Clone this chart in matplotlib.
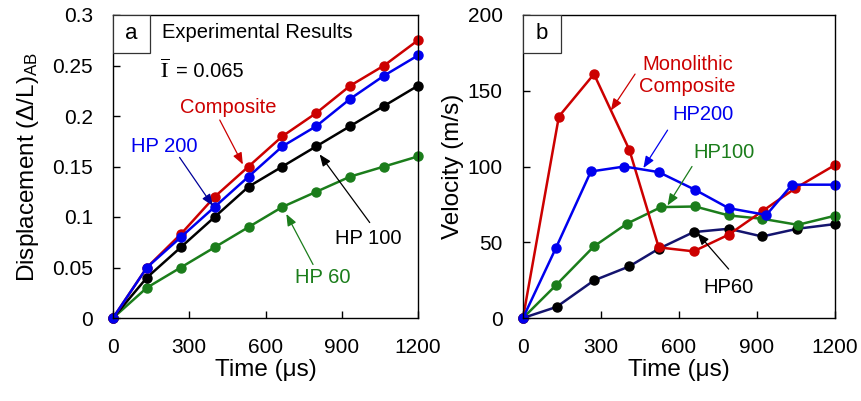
import matplotlib
matplotlib.use('Agg')
import matplotlib.pyplot as plt
from matplotlib.patches import Rectangle

plt.rcParams['font.family'] = ['Liberation Sans', 'DejaVu Sans']
plt.rcParams['mathtext.fontset'] = 'custom'
plt.rcParams['mathtext.rm'] = 'Liberation Sans'
plt.rcParams['mathtext.it'] = 'Liberation Sans:italic'

# panel a: displacement
t_disp = [0, 133.3, 266.7, 400, 533.3, 666.7, 800, 933.3, 1066.7, 1200]
disp_composite = [0, 0.05, 0.083, 0.12, 0.15, 0.18, 0.203, 0.23, 0.25, 0.275]
disp_hp200 = [0, 0.05, 0.08, 0.11, 0.14, 0.17, 0.19, 0.217, 0.24, 0.26]
disp_hp100 = [0, 0.04, 0.07, 0.10, 0.13, 0.15, 0.17, 0.19, 0.21, 0.23]
disp_hp60 = [0, 0.03, 0.05, 0.07, 0.09, 0.11, 0.125, 0.14, 0.15, 0.16]

# panel b: velocity
t_mono = [0, 138, 273, 409, 522, 656, 791, 923, 1048, 1200]
v_mono = [0, 133, 161, 111, 46.6, 44, 55, 70.8, 85.7, 101]
t_v200 = [0, 126, 261, 390, 522, 662, 791, 936, 1035, 1200]
v_hp200 = [0, 46, 96.7, 100, 96.3, 84.6, 72.5, 68, 88, 88]
t_v100 = [0, 126, 273, 399, 531, 662, 791, 920, 1057, 1200]
v_hp100 = [0, 21.5, 47.3, 62.2, 73.2, 73.6, 67.7, 65.5, 61.5, 67.5]
t_v60 = [0, 129, 273, 408, 522, 656, 791, 920, 1055, 1200]
v_hp60 = [0, 7.3, 24.8, 34, 45.7, 56.7, 58.9, 53.8, 58.9, 62]

RED = '#cc0000'
BLUE = '#0000ee'
GREEN = '#1b7d1b'
NAVY = '#14146e'

fig = plt.figure(figsize=(8.61, 4.01), dpi=100)
ax1 = fig.add_axes([113/861, 1-318/401, 305/861, 303/401])
ax2 = fig.add_axes([523/861, 1-318/401, 312/861, 303/401])

def style(ax):
    ax.set_xlim(0, 1200)
    ax.set_xticks([0, 300, 600, 900, 1200])
    ax.tick_params(direction='in', length=5, width=1, pad=14.5, labelsize=15)
    for s in ax.spines.values():
        s.set_linewidth(1)
    ax.set_xlabel('Time (μs)', fontsize=17.5, labelpad=1)

def corner(ax, label):
    ax.add_patch(Rectangle((0, 1-0.125), 0.121, 0.125, transform=ax.transAxes,
                           facecolor='white', edgecolor='#333333', lw=0.9, zorder=5))
    ax.text(0.06, 1-0.0625, label, transform=ax.transAxes, ha='center', va='center',
            fontsize=16, zorder=6)

def line_arrow(ax, head, tail, color):
    ax.annotate('', xy=head, xytext=tail,
                arrowprops=dict(arrowstyle='-|>,head_length=0.5,head_width=0.2',
                                color=color, lw=0.9,
                                mutation_scale=14, shrinkA=0, shrinkB=0))

kw = dict(lw=1.8, marker='o', ms=6.5, clip_on=False)

# panel a
ax1.plot(t_disp, disp_hp60, color=GREEN, **kw)
ax1.plot(t_disp, disp_hp100, color='black', **kw)
ax1.plot(t_disp, disp_composite, color=RED, **kw)
ax1.plot(t_disp, disp_hp200, color=BLUE, **kw)
style(ax1)
ax1.set_ylim(0, 0.3)
ax1.set_yticks([0, 0.05, 0.1, 0.15, 0.2, 0.25, 0.3])
ax1.set_yticklabels(['0', '0.05', '0.1', '0.15', '0.2', '0.25', '0.3'])
ax1.set_ylabel(r'Displacement ($\Delta$/L)$_{\mathrm{AB}}$', fontsize=17.5, labelpad=8)
corner(ax1, 'a')
ax1.text(162/861, 1-33/401, 'Experimental Results', transform=fig.transFigure,
         fontsize=14.5, va='center', ha='left')
ax1.text(0.155, 0.815, r'$\overline{\mathrm{I}}$', transform=ax1.transAxes,
         fontsize=16, va='center', ha='left', math_fontfamily='stix')
ax1.text(0.205, 0.815, '= 0.065', transform=ax1.transAxes,
         fontsize=14.5, va='center', ha='left')

ax1.text(452, 0.208, 'Composite', color=RED, fontsize=14.5, ha='center', va='center')
line_arrow(ax1, (511, 0.152), (420, 0.196), RED)
ax1.text(203, 0.170, 'HP 200', color=BLUE, fontsize=14.5, ha='center', va='center')
line_arrow(ax1, (393, 0.111), (262, 0.159), '#000099')
ax1.text(1003, 0.079, 'HP 100', color='black', fontsize=14.5, ha='center', va='center')
line_arrow(ax1, (813, 0.162), (1010, 0.0945), 'black')
ax1.text(824, 0.040, 'HP 60', color=GREEN, fontsize=14.5, ha='center', va='center')
line_arrow(ax1, (682, 0.103), (787, 0.053), GREEN)

# panel b
ax2.plot(t_v60, v_hp60, color=NAVY, lw=1.8, marker='o', ms=6.5, mfc='black', mec='black', clip_on=False)
ax2.plot(t_v100, v_hp100, color=GREEN, **kw)
ax2.plot(t_mono, v_mono, color=RED, **kw)
ax2.plot(t_v200, v_hp200, color=BLUE, **kw)
style(ax2)
ax2.set_ylim(0, 200)
ax2.set_yticks([0, 50, 100, 150, 200])
ax2.set_ylabel('Velocity (m/s)', fontsize=17.5, labelpad=3)
corner(ax2, 'b')

ax2.text(633, 160, 'Monolithic\nComposite', color=RED, fontsize=14.5,
         ha='center', va='center', multialignment='center', linespacing=1.15)
line_arrow(ax2, (338, 137), (431, 161), RED)
ax2.text(692, 134, 'HP200', color=BLUE, fontsize=14.5, ha='center', va='center')
line_arrow(ax2, (463, 99), (556, 124), BLUE)
ax2.text(772, 109, 'HP100', color=GREEN, fontsize=14.5, ha='center', va='center')
line_arrow(ax2, (556, 74.3), (650, 100), GREEN)
ax2.text(791, 20.4, 'HP60', color='black', fontsize=14.5, ha='center', va='center')
line_arrow(ax2, (671, 56), (791, 32.3), 'black')

fig.savefig('out.png', dpi=100)
